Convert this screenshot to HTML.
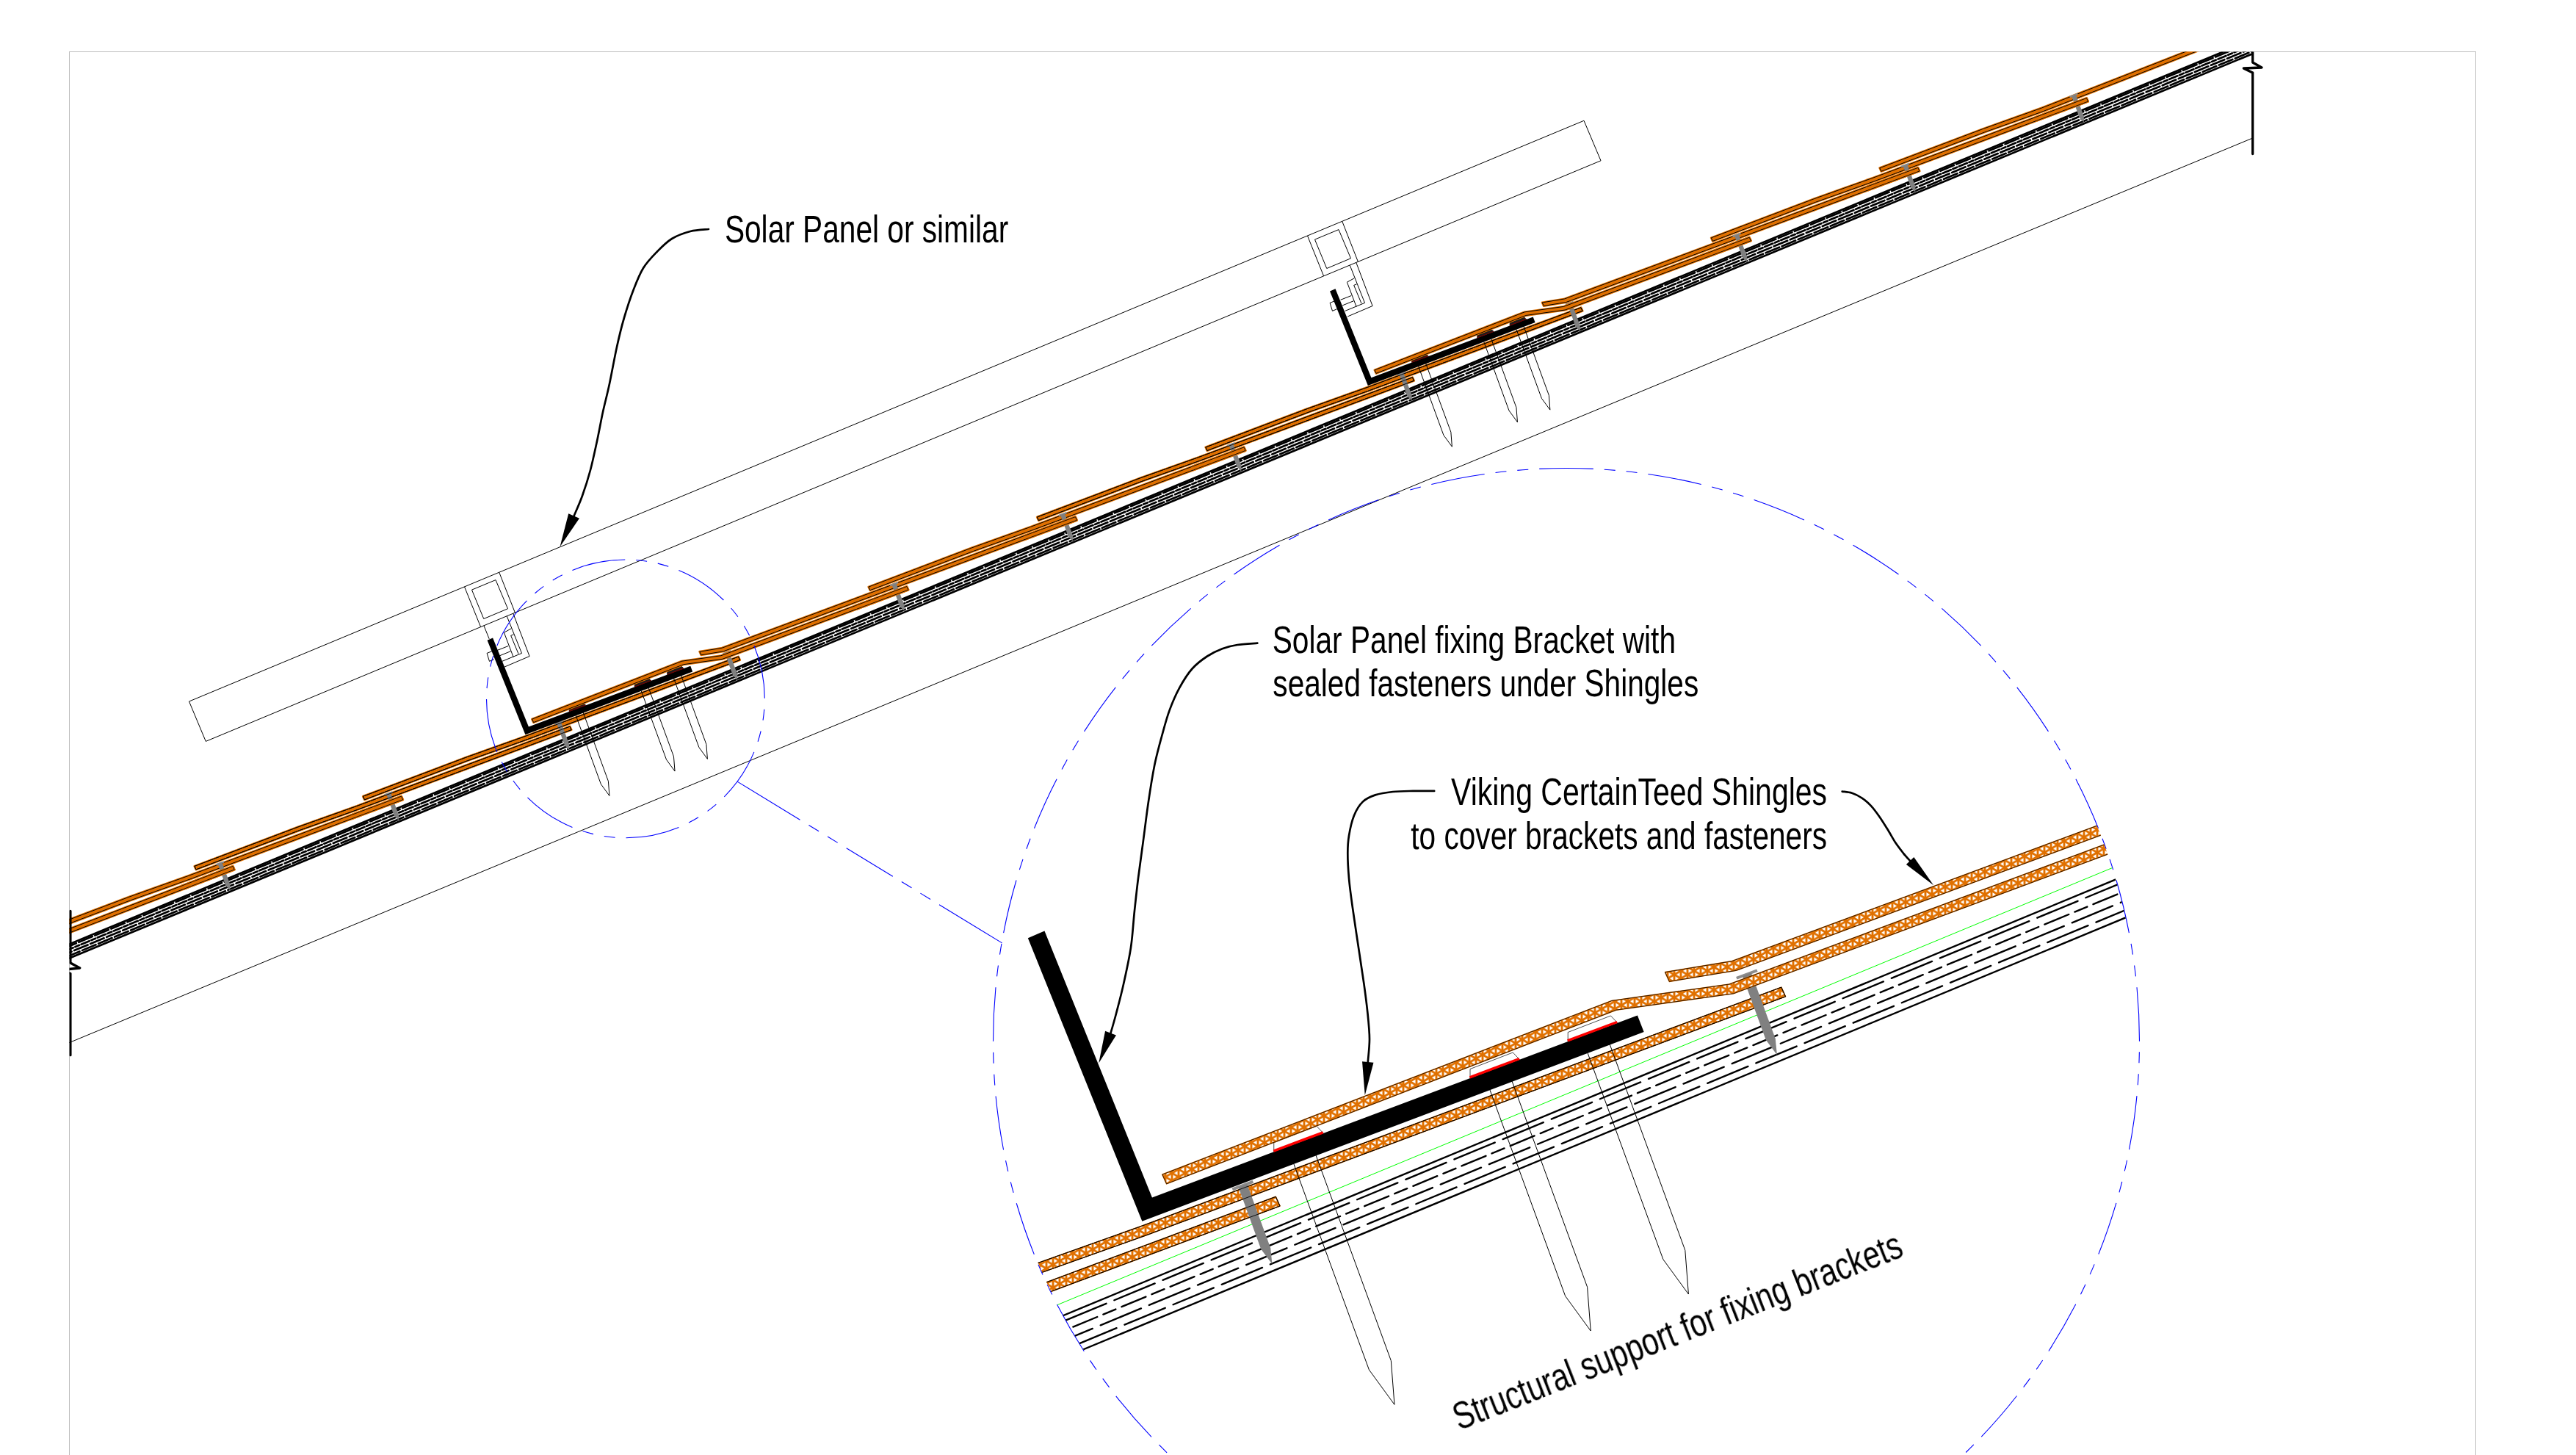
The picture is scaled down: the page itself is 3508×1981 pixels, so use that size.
<!DOCTYPE html><html><head><meta charset="utf-8"><title>Detail</title><style>html,body{margin:0;padding:0;background:#fff;width:3508px;height:1981px;overflow:hidden}svg{display:block}text{font-family:"Liberation Sans",sans-serif;fill:#000}</style></head><body>
<svg width="3508" height="1981" viewBox="0 0 3508 1981">
<defs>
<clipPath id="cf"><rect x="94.5" y="70.5" width="2973.2" height="2000"/></clipPath>
<clipPath id="cfr"><rect x="94.5" y="70.5" width="3277" height="2000"/></clipPath>
<clipPath id="cd"><circle cx="2133" cy="1418" r="780"/></clipPath>
<pattern id="tri" patternUnits="userSpaceOnUse" width="18.000" height="10.392" x="3" y="2">
<rect width="18.000" height="10.392" fill="#fff"/>
<g stroke="#e07000" stroke-width="2.9" fill="none">
<path d="M0 -5V15.392 M9.000 -5V15.392 M18.000 -5V15.392"/>
<path d="M-9.000 -15.588L27.000 5.196"/>
<path d="M-9.000 5.196L27.000 -15.588"/>
<path d="M-9.000 -5.196L27.000 15.588"/>
<path d="M-9.000 15.588L27.000 -5.196"/>
<path d="M-9.000 5.196L27.000 25.981"/>
<path d="M-9.000 25.981L27.000 5.196"/>
</g></pattern>
</defs>
<rect width="3508" height="1981" fill="#fff"/>
<rect x="94.5" y="70.5" width="3277" height="2000" fill="none" stroke="#bdbdbd" stroke-width="1"/>
<g clip-path="url(#cf)">
<path d="M3.83 1457.07 L3191.22 136.81" stroke="#000" stroke-width="1" fill="none"/>
<g stroke="#000" stroke-width="2.70" stroke-linecap="round" fill="none">
<path d="M-43.58 1342.60 L3143.80 22.34"/>
<path d="M-42.64 1344.87 L3144.74 24.61" stroke-dasharray="19.93 3.93" stroke-dashoffset="4.67"/>
<path d="M-41.09 1348.61 L3146.29 28.35" stroke-dasharray="11.87 2.93 6.13 2.93" stroke-dashoffset="2.70"/>
<path d="M-39.54 1352.37 L3147.85 32.11" stroke-dasharray="19.93 3.93" stroke-dashoffset="14.77"/>
<path d="M-38.02 1356.03 L3149.36 35.77" stroke-dasharray="19.93 3.93" stroke-dashoffset="4.60"/>
<path d="M-36.80 1358.98 L3150.59 38.73"/>
</g>
<polygon points="-394.81,1461.52 -383.93,1457.46 -383.02,1459.68 -393.89,1463.74" fill="#8c8c8c"/>
<polygon points="-391.78,1461.79 -386.05,1459.41 -374.97,1489.61 -375.18,1497.27 -381.16,1490.88" fill="#808080"/>
<polygon points="-441.72,1490.67 -371.41,1464.43 -369.36,1468.99 -439.67,1495.24" fill="#e07000"/>
<path d="M-441.72 1490.67 L-371.41 1464.43 L-369.36 1468.99 L-439.67 1495.24" fill="none" stroke="#e07000" stroke-width="3.0" stroke-linejoin="round"/>
<path d="M-441.72 1490.67 L-371.41 1464.43 L-369.36 1468.99 L-439.67 1495.24" fill="none" stroke="#000" stroke-width="0.9"/>
<polygon points="-423.56,1464.49 -283.22,1411.34 -203.04,1382.78 87.57,1274.32 89.62,1278.88 -200.99,1387.35 -281.17,1415.90 -421.51,1469.05" fill="#e07000" stroke="#e07000" stroke-width="3.0" stroke-linejoin="round"/>
<polygon points="-423.56,1464.49 -283.22,1411.34 -203.04,1382.78 87.57,1274.32 89.62,1278.88 -200.99,1387.35 -281.17,1415.90 -421.51,1469.05" fill="#e07000" stroke="#000" stroke-width="1.0"/>
<polygon points="-165.32,1366.46 -154.44,1362.41 -153.52,1364.62 -164.40,1368.68" fill="#8c8c8c"/>
<polygon points="-162.28,1366.73 -156.56,1364.36 -145.48,1394.55 -145.69,1402.21 -151.67,1395.82" fill="#808080"/>
<polygon points="-212.23,1395.62 -141.92,1369.37 -139.87,1373.94 -210.18,1400.18" fill="#e07000"/>
<path d="M-212.23 1395.62 L-141.92 1369.37 L-139.87 1373.94 L-210.18 1400.18" fill="none" stroke="#e07000" stroke-width="3.0" stroke-linejoin="round"/>
<path d="M-212.23 1395.62 L-141.92 1369.37 L-139.87 1373.94 L-210.18 1400.18" fill="none" stroke="#000" stroke-width="0.9"/>
<polygon points="31.53,1288.76 317.14,1179.44 319.19,1184.00 33.58,1293.32" fill="#e07000" stroke="#e07000" stroke-width="3.0" stroke-linejoin="round"/>
<polygon points="31.53,1288.76 317.14,1179.44 319.19,1184.00 33.58,1293.32" fill="#e07000" stroke="#000" stroke-width="1.0"/>
<polygon points="64.17,1271.40 75.05,1267.35 75.97,1269.56 65.09,1273.62" fill="#8c8c8c"/>
<polygon points="67.21,1271.67 72.93,1269.30 84.01,1299.49 83.81,1307.15 77.82,1300.76" fill="#808080"/>
<polygon points="17.26,1300.56 87.57,1274.32 89.62,1278.88 19.31,1305.12" fill="#e07000"/>
<path d="M17.26 1300.56 L87.57 1274.32 L89.62 1278.88 L19.31 1305.12" fill="none" stroke="#e07000" stroke-width="3.0" stroke-linejoin="round"/>
<path d="M17.26 1300.56 L87.57 1274.32 L89.62 1278.88 L19.31 1305.12" fill="none" stroke="#000" stroke-width="0.9"/>
<polygon points="35.42,1274.38 175.76,1221.22 255.94,1192.67 546.55,1084.20 548.60,1088.76 257.99,1197.23 177.82,1225.78 37.47,1278.94" fill="#e07000" stroke="#e07000" stroke-width="3.0" stroke-linejoin="round"/>
<polygon points="35.42,1274.38 175.76,1221.22 255.94,1192.67 546.55,1084.20 548.60,1088.76 257.99,1197.23 177.82,1225.78 37.47,1278.94" fill="#e07000" stroke="#000" stroke-width="1.0"/>
<polygon points="293.67,1176.34 304.54,1172.29 305.46,1174.51 294.58,1178.56" fill="#8c8c8c"/>
<polygon points="296.70,1176.61 302.43,1174.24 313.50,1204.44 313.30,1212.10 307.31,1205.70" fill="#808080"/>
<polygon points="247.07,1206.26 317.14,1179.44 319.19,1184.00 249.12,1210.82" fill="#e07000"/>
<path d="M247.07 1206.26 L317.14 1179.44 L319.19 1184.00 L249.12 1210.82" fill="none" stroke="#e07000" stroke-width="3.0" stroke-linejoin="round"/>
<path d="M247.07 1206.26 L317.14 1179.44 L319.19 1184.00 L249.12 1210.82" fill="none" stroke="#000" stroke-width="0.9"/>
<polygon points="264.91,1179.32 405.26,1126.16 485.43,1097.61 776.04,989.14 778.10,993.70 487.48,1102.17 407.31,1130.73 266.97,1183.88" fill="#e07000" stroke="#e07000" stroke-width="3.0" stroke-linejoin="round"/>
<polygon points="264.91,1179.32 405.26,1126.16 485.43,1097.61 776.04,989.14 778.10,993.70 487.48,1102.17 407.31,1130.73 266.97,1183.88" fill="#e07000" stroke="#000" stroke-width="1.0"/>
<polygon points="523.16,1081.29 534.03,1077.23 534.95,1079.45 524.08,1083.50" fill="#8c8c8c"/>
<polygon points="526.19,1081.55 531.92,1079.18 542.99,1109.38 542.79,1117.04 536.81,1110.64" fill="#808080"/>
<polygon points="476.24,1110.44 546.55,1084.20 548.60,1088.76 478.29,1115.00" fill="#e07000"/>
<path d="M476.24 1110.44 L546.55 1084.20 L548.60 1088.76 L478.29 1115.00" fill="none" stroke="#e07000" stroke-width="3.0" stroke-linejoin="round"/>
<path d="M476.24 1110.44 L546.55 1084.20 L548.60 1088.76 L478.29 1115.00" fill="none" stroke="#000" stroke-width="0.9"/>
<polygon points="494.41,1084.26 634.75,1031.11 714.92,1002.55 1005.54,894.08 1007.59,898.64 716.98,1007.11 636.80,1035.67 496.46,1088.82" fill="#e07000" stroke="#e07000" stroke-width="3.0" stroke-linejoin="round"/>
<polygon points="494.41,1084.26 634.75,1031.11 714.92,1002.55 1005.54,894.08 1007.59,898.64 716.98,1007.11 636.80,1035.67 496.46,1088.82" fill="#e07000" stroke="#000" stroke-width="1.0"/>
<polygon points="755.17,985.00 766.05,980.95 766.97,983.17 756.09,987.22" fill="#8c8c8c"/>
<polygon points="758.21,985.27 763.93,982.90 775.06,1013.25 774.86,1020.91 768.88,1014.51" fill="#808080"/>
<polygon points="494.41,1084.26 634.75,1031.11 714.92,1002.55 1005.54,894.08 1007.59,898.64 716.98,1007.11 636.80,1035.67 496.46,1088.82" fill="none" stroke="#000" stroke-width="0.9"/>
<polygon points="264.91,1179.32 405.26,1126.16 485.43,1097.61 776.04,989.14 778.10,993.70 487.48,1102.17 407.31,1130.73 266.97,1183.88" fill="none" stroke="#000" stroke-width="0.9"/>
<polygon points="984.00,889.14 994.88,885.08 995.80,887.30 984.92,891.35" fill="#8c8c8c"/>
<polygon points="987.04,889.40 992.77,887.03 1004.24,918.32 1004.04,925.98 998.05,919.59" fill="#808080"/>
<polygon points="663.56,871.75 671.10,868.52 719.93,989.55 940.25,906.84 943.16,914.40 715.40,1000.30" fill="#000"/>
<polygon points="775.19,968.80 775.20,964.63 794.61,957.13 797.68,960.36" fill="#1c1c1c" stroke="#000" stroke-width="0.7"/>
<polygon points="774.81,967.87 797.29,959.43 797.73,960.50 775.25,968.94" fill="#7a0000"/>
<polygon points="864.28,935.36 864.28,931.19 883.69,923.69 886.76,926.92" fill="#1c1c1c" stroke="#000" stroke-width="0.7"/>
<polygon points="863.90,934.43 886.38,925.99 886.82,927.05 864.34,935.49" fill="#7a0000"/>
<polygon points="908.68,918.69 908.69,914.52 928.09,907.02 931.16,910.25" fill="#1c1c1c" stroke="#000" stroke-width="0.7"/>
<polygon points="908.30,917.76 930.78,909.32 931.22,910.39 908.74,918.83" fill="#7a0000"/>
<polygon points="724.57,979.07 928.61,900.18 981.92,892.72 1234.84,798.56 1236.89,803.12 983.97,897.28 930.67,904.74 726.62,983.63" fill="#e07000" stroke="#e07000" stroke-width="3.0" stroke-linejoin="round"/>
<polygon points="724.57,979.07 928.61,900.18 981.92,892.72 1234.84,798.56 1236.89,803.12 983.97,897.28 930.67,904.74 726.62,983.63" fill="#e07000" stroke="#000" stroke-width="1.0"/>
<polygon points="952.80,887.24 983.20,882.23 1464.40,703.69 1466.46,708.25 985.25,886.79 954.86,891.80" fill="#e07000" stroke="#e07000" stroke-width="3.0" stroke-linejoin="round"/>
<polygon points="952.80,887.24 983.20,882.23 1464.40,703.69 1466.46,708.25 985.25,886.79 954.86,891.80" fill="#e07000" stroke="#000" stroke-width="1.0"/>
<polygon points="1211.63,796.11 1222.51,792.05 1223.43,794.27 1212.55,798.33" fill="#8c8c8c"/>
<polygon points="1214.67,796.38 1220.39,794.00 1231.47,824.20 1231.26,831.86 1225.28,825.47" fill="#808080"/>
<polygon points="1164.50,824.74 1234.84,798.56 1236.89,803.12 1166.55,829.31" fill="#e07000"/>
<path d="M1164.50 824.74 L1234.84 798.56 L1236.89 803.12 L1166.55 829.31" fill="none" stroke="#e07000" stroke-width="3.0" stroke-linejoin="round"/>
<path d="M1164.50 824.74 L1234.84 798.56 L1236.89 803.12 L1166.55 829.31" fill="none" stroke="#000" stroke-width="0.9"/>
<polygon points="1182.88,799.08 1323.22,745.93 1403.40,717.37 1694.01,608.91 1696.06,613.47 1405.45,721.94 1325.28,750.49 1184.93,803.64" fill="#e07000" stroke="#e07000" stroke-width="3.0" stroke-linejoin="round"/>
<polygon points="1182.88,799.08 1323.22,745.93 1403.40,717.37 1694.01,608.91 1696.06,613.47 1405.45,721.94 1325.28,750.49 1184.93,803.64" fill="#e07000" stroke="#000" stroke-width="1.0"/>
<polygon points="1441.12,701.05 1452.00,697.00 1452.92,699.21 1442.04,703.27" fill="#8c8c8c"/>
<polygon points="1444.16,701.32 1449.88,698.95 1460.96,729.14 1460.76,736.80 1454.77,730.41" fill="#808080"/>
<polygon points="1394.04,729.79 1464.40,703.69 1466.46,708.25 1396.09,734.36" fill="#e07000"/>
<path d="M1394.04 729.79 L1464.40 703.69 L1466.46 708.25 L1396.09 734.36" fill="none" stroke="#e07000" stroke-width="3.0" stroke-linejoin="round"/>
<path d="M1394.04 729.79 L1464.40 703.69 L1466.46 708.25 L1396.09 734.36" fill="none" stroke="#000" stroke-width="0.9"/>
<polygon points="1412.37,704.02 1552.71,650.87 1632.89,622.32 1923.50,513.85 1925.55,518.41 1634.94,626.88 1554.77,655.43 1414.42,708.59" fill="#e07000" stroke="#e07000" stroke-width="3.0" stroke-linejoin="round"/>
<polygon points="1412.37,704.02 1552.71,650.87 1632.89,622.32 1923.50,513.85 1925.55,518.41 1634.94,626.88 1554.77,655.43 1414.42,708.59" fill="#e07000" stroke="#000" stroke-width="1.0"/>
<polygon points="1670.62,605.99 1681.49,601.94 1682.41,604.15 1671.53,608.21" fill="#8c8c8c"/>
<polygon points="1673.65,606.26 1679.38,603.89 1690.45,634.08 1690.25,641.75 1684.26,635.35" fill="#808080"/>
<polygon points="1623.70,635.15 1694.01,608.91 1696.06,613.47 1625.75,639.71" fill="#e07000"/>
<path d="M1623.70 635.15 L1694.01 608.91 L1696.06 613.47 L1625.75 639.71" fill="none" stroke="#e07000" stroke-width="3.0" stroke-linejoin="round"/>
<path d="M1623.70 635.15 L1694.01 608.91 L1696.06 613.47 L1625.75 639.71" fill="none" stroke="#000" stroke-width="0.9"/>
<polygon points="1641.86,608.97 1782.21,555.81 1862.38,527.26 2152.99,418.79 2155.05,423.35 1864.43,531.82 1784.26,560.37 1643.92,613.53" fill="#e07000" stroke="#e07000" stroke-width="3.0" stroke-linejoin="round"/>
<polygon points="1641.86,608.97 1782.21,555.81 1862.38,527.26 2152.99,418.79 2155.05,423.35 1864.43,531.82 1784.26,560.37 1643.92,613.53" fill="#e07000" stroke="#000" stroke-width="1.0"/>
<polygon points="1902.63,509.71 1913.51,505.66 1914.43,507.87 1903.55,511.93" fill="#8c8c8c"/>
<polygon points="1905.66,509.98 1911.39,507.61 1922.52,537.96 1922.32,545.62 1916.34,539.22" fill="#808080"/>
<polygon points="1641.86,608.97 1782.21,555.81 1862.38,527.26 2152.99,418.79 2155.05,423.35 1864.43,531.82 1784.26,560.37 1643.92,613.53" fill="none" stroke="#000" stroke-width="0.9"/>
<polygon points="1412.37,704.02 1552.71,650.87 1632.89,622.32 1923.50,513.85 1925.55,518.41 1634.94,626.88 1554.77,655.43 1414.42,708.59" fill="none" stroke="#000" stroke-width="0.9"/>
<polygon points="2131.46,413.84 2142.34,409.79 2143.26,412.01 2132.38,416.06" fill="#8c8c8c"/>
<polygon points="2134.50,414.11 2140.22,411.74 2151.70,443.03 2151.50,450.69 2145.51,444.29" fill="#808080"/>
<polygon points="1811.02,396.46 1818.55,393.23 1867.39,514.25 2087.71,431.54 2090.62,439.10 1862.86,525.00" fill="#000"/>
<polygon points="1922.65,493.50 1922.66,489.34 1942.07,481.84 1945.13,485.07" fill="#1c1c1c" stroke="#000" stroke-width="0.7"/>
<polygon points="1922.27,492.58 1944.75,484.14 1945.19,485.20 1922.71,493.64" fill="#7a0000"/>
<polygon points="2011.74,460.06 2011.74,455.90 2031.15,448.40 2034.22,451.62" fill="#1c1c1c" stroke="#000" stroke-width="0.7"/>
<polygon points="2011.35,459.14 2033.84,450.70 2034.28,451.76 2011.79,460.20" fill="#7a0000"/>
<polygon points="2056.14,443.39 2056.14,439.23 2075.55,431.73 2078.62,434.95" fill="#1c1c1c" stroke="#000" stroke-width="0.7"/>
<polygon points="2055.76,442.47 2078.24,434.03 2078.68,435.09 2056.20,443.53" fill="#7a0000"/>
<polygon points="1872.03,503.78 2076.07,424.89 2129.37,417.42 2382.29,323.27 2384.35,327.83 2131.43,421.99 2078.13,429.45 1874.08,508.34" fill="#e07000" stroke="#e07000" stroke-width="3.0" stroke-linejoin="round"/>
<polygon points="1872.03,503.78 2076.07,424.89 2129.37,417.42 2382.29,323.27 2384.35,327.83 2131.43,421.99 2078.13,429.45 1874.08,508.34" fill="#e07000" stroke="#000" stroke-width="1.0"/>
<polygon points="2100.26,411.95 2130.66,406.93 2611.86,228.39 2613.91,232.96 2132.71,411.50 2102.31,416.51" fill="#e07000" stroke="#e07000" stroke-width="3.0" stroke-linejoin="round"/>
<polygon points="2100.26,411.95 2130.66,406.93 2611.86,228.39 2613.91,232.96 2132.71,411.50 2102.31,416.51" fill="#e07000" stroke="#000" stroke-width="1.0"/>
<polygon points="2359.09,320.82 2369.97,316.76 2370.88,318.98 2360.01,323.03" fill="#8c8c8c"/>
<polygon points="2362.12,321.08 2367.85,318.71 2378.93,348.91 2378.72,356.57 2372.74,350.17" fill="#808080"/>
<polygon points="2311.96,349.45 2382.29,323.27 2384.35,327.83 2314.01,354.01" fill="#e07000"/>
<path d="M2311.96 349.45 L2382.29 323.27 L2384.35 327.83 L2314.01 354.01" fill="none" stroke="#e07000" stroke-width="3.0" stroke-linejoin="round"/>
<path d="M2311.96 349.45 L2382.29 323.27 L2384.35 327.83 L2314.01 354.01" fill="none" stroke="#000" stroke-width="0.9"/>
<polygon points="2330.34,323.79 2470.68,270.64 2550.86,242.08 2841.47,133.61 2843.52,138.17 2552.91,246.64 2472.73,275.20 2332.39,328.35" fill="#e07000" stroke="#e07000" stroke-width="3.0" stroke-linejoin="round"/>
<polygon points="2330.34,323.79 2470.68,270.64 2550.86,242.08 2841.47,133.61 2843.52,138.17 2552.91,246.64 2472.73,275.20 2332.39,328.35" fill="#e07000" stroke="#000" stroke-width="1.0"/>
<polygon points="2588.58,225.76 2599.46,221.70 2600.38,223.92 2589.50,227.98" fill="#8c8c8c"/>
<polygon points="2591.62,226.03 2597.34,223.65 2608.42,253.85 2608.21,261.51 2602.23,255.11" fill="#808080"/>
<polygon points="2541.50,254.50 2611.86,228.39 2613.91,232.96 2543.55,259.06" fill="#e07000"/>
<path d="M2541.50 254.50 L2611.86 228.39 L2613.91 232.96 L2543.55 259.06" fill="none" stroke="#e07000" stroke-width="3.0" stroke-linejoin="round"/>
<path d="M2541.50 254.50 L2611.86 228.39 L2613.91 232.96 L2543.55 259.06" fill="none" stroke="#000" stroke-width="0.9"/>
<polygon points="2559.83,228.73 2700.17,175.58 2780.35,147.02 3069.12,34.12 3071.18,38.68 2782.40,151.59 2702.23,180.14 2561.88,233.29" fill="#e07000" stroke="#e07000" stroke-width="3.0" stroke-linejoin="round"/>
<polygon points="2559.83,228.73 2700.17,175.58 2780.35,147.02 3069.12,34.12 3071.18,38.68 2782.40,151.59 2702.23,180.14 2561.88,233.29" fill="#e07000" stroke="#000" stroke-width="1.0"/>
<polygon points="2818.07,130.70 2828.95,126.64 2829.87,128.86 2818.99,132.92" fill="#8c8c8c"/>
<polygon points="2821.11,130.97 2826.83,128.59 2837.91,158.79 2837.71,166.45 2831.72,160.06" fill="#808080"/>
<polygon points="2771.16,159.85 2841.47,133.61 2843.52,138.17 2773.21,164.42" fill="#e07000"/>
<path d="M2771.16 159.85 L2841.47 133.61 L2843.52 138.17 L2773.21 164.42" fill="none" stroke="#e07000" stroke-width="3.0" stroke-linejoin="round"/>
<path d="M2771.16 159.85 L2841.47 133.61 L2843.52 138.17 L2773.21 164.42" fill="none" stroke="#000" stroke-width="0.9"/>
<path d="M784.20 974.16 L818.41 1067.69 L829.94 1083.48 L828.39 1063.56 L794.18 970.03" fill="none" stroke="#000" stroke-width="1.0"/>
<path d="M873.28 940.72 L907.50 1034.25 L919.02 1050.04 L917.48 1030.11 L883.26 936.59" fill="none" stroke="#000" stroke-width="1.0"/>
<path d="M917.68 924.05 L951.90 1017.58 L963.42 1033.37 L961.88 1013.45 L927.66 919.92" fill="none" stroke="#000" stroke-width="1.0"/>
<path d="M1931.66 498.87 L1965.87 592.40 L1977.39 608.19 L1975.85 588.26 L1941.63 494.74" fill="none" stroke="#000" stroke-width="1.0"/>
<path d="M2020.74 465.43 L2054.96 558.95 L2066.48 574.75 L2064.93 554.82 L2030.72 461.30" fill="none" stroke="#000" stroke-width="1.0"/>
<path d="M2065.14 448.76 L2099.36 542.29 L2110.88 558.08 L2109.33 538.15 L2075.12 444.63" fill="none" stroke="#000" stroke-width="1.0"/>
</g>
<g clip-path="url(#cfr)" fill="none" stroke="#000" stroke-width="3.3" stroke-linejoin="round" stroke-linecap="round">
<path d="M95.9 1240.5 V1311 L108.7 1318 L83.9 1320.5 L95.9 1325.5 V1436.7"/>
<path d="M3067.7 66 V85 L3080.0 92 L3055.3 93 L3067.7 99 V209.5"/>
</g>
<g fill="none" stroke="#000" stroke-width="1.0">
<polygon points="257.5,955 2157,164.25 2180,218.75 280.25,1009.4"/>
<path d="M632.50 798.89 L654.60 853.60"/><path d="M679.75 779.22 L701.40 834.12"/><path d="M642.50 803.10 L675.00 789.60 L691.50 828.75 L658.75 842.50 Z"/><path d="M690.20 838.78 L710.50 889.40 L683.70 900.40"/><path d="M698.80 835.21 L721.10 893.50 L687.10 908.00"/><path d="M696.40 855.70 L686.40 861.20 L699.10 894.60"/><path d="M699.60 863.80 L695.70 865.40 L706.00 890.10"/><path d="M677.50 885.30 L692.30 879.50"/><path d="M680.20 892.90 L695.40 886.70"/><path d="M669.90 886.70 L663.10 889.40 L666.50 900.40 L672.70 897.70"/><path d="M658.90 851.81 L666.20 869.80"/>
<path d="M1780.50 320.98 L1802.60 375.82"/><path d="M1827.75 301.31 L1849.40 356.34"/><path d="M1790.50 326.10 L1823.00 312.60 L1839.50 351.75 L1806.75 365.50 Z"/><path d="M1838.20 361.00 L1858.50 412.40 L1831.70 423.40"/><path d="M1846.80 357.42 L1869.10 416.50 L1835.10 431.00"/><path d="M1844.40 378.70 L1834.40 384.20 L1847.10 417.60"/><path d="M1847.60 386.80 L1843.70 388.40 L1854.00 413.10"/><path d="M1825.50 408.30 L1840.30 402.50"/><path d="M1828.20 415.90 L1843.40 409.70"/><path d="M1817.90 409.70 L1811.10 412.40 L1814.50 423.40 L1820.70 420.70"/>
</g>
<g fill="none" stroke="#0000ff" stroke-width="1.1">
<circle cx="851.9" cy="951.4" r="189.4" pathLength="360" stroke-dasharray="22.3 4.54 4.54 4.54 4.54 4.54" stroke-dashoffset="22.5"/>
<path d="M1004.1 1064.1 L1364.6 1283.9" stroke-dasharray="100 14 16 14 16 14 74 14 16 14 16 14 110"/>
<circle cx="2133" cy="1418" r="780.5" pathLength="360" stroke-dasharray="5.41 1.1 1.1 1.1 1.1 1.1" stroke-dashoffset="5.4545"/>
</g>
<g clip-path="url(#cd)">
<path d="M1240.00 1859.44 L3152.43 1067.28" stroke="#00ff00" stroke-width="1" fill="none"/>
<g stroke="#000" stroke-width="2.40" stroke-linecap="round" fill="none">
<path d="M1246.28 1874.60 L3158.71 1082.44"/>
<path d="M1249.09 1881.39 L3161.52 1089.23" stroke-dasharray="59.80 11.80" stroke-dashoffset="67.60"/>
<path d="M1253.74 1892.61 L3166.17 1100.46" stroke-dasharray="35.60 8.80 18.40 8.80" stroke-dashoffset="61.70"/>
<path d="M1258.41 1903.89 L3170.84 1111.74" stroke-dasharray="59.80 11.80" stroke-dashoffset="26.30"/>
<path d="M1262.96 1914.87 L3175.39 1122.72" stroke-dasharray="59.80 11.80" stroke-dashoffset="67.40"/>
<path d="M1266.63 1923.74 L3179.06 1131.58"/>
</g>
<polygon points="-395.44,2476.80 -367.31,2466.31 -365.82,2469.92 -393.94,2480.40" fill="#8c8c8c"/>
<polygon points="-386.45,2475.77 -374.81,2470.95 -342.92,2557.87 -340.76,2579.71 -355.94,2559.37" fill="#808080"/>
<polygon points="-484.57,2485.03 -63.54,2325.57 176.98,2239.91 1048.82,1914.50 1054.57,1927.22 182.74,2252.62 -57.79,2338.29 -478.82,2497.75" fill="url(#tri)" stroke="#e07000" stroke-width="1.6" stroke-linejoin="round"/>
<polygon points="-484.57,2485.03 -63.54,2325.57 176.98,2239.91 1048.82,1914.50 1054.57,1927.22 182.74,2252.62 -57.79,2338.29 -478.82,2497.75" fill="none" stroke="#000" stroke-width="0.8"/>
<polygon points="293.04,2191.63 321.17,2181.14 322.66,2184.74 294.53,2195.23" fill="#8c8c8c"/>
<polygon points="302.03,2190.59 313.67,2185.77 345.55,2272.70 347.71,2294.53 332.53,2274.19" fill="#808080"/>
<polygon points="203.90,2199.86 624.93,2040.40 865.46,1954.73 1737.29,1629.33 1743.05,1642.04 871.21,1967.45 630.68,2053.11 209.66,2212.57" fill="url(#tri)" stroke="#e07000" stroke-width="1.6" stroke-linejoin="round"/>
<polygon points="203.90,2199.86 624.93,2040.40 865.46,1954.73 1737.29,1629.33 1743.05,1642.04 871.21,1967.45 630.68,2053.11 209.66,2212.57" fill="none" stroke="#000" stroke-width="0.8"/>
<polygon points="981.51,1906.45 1009.64,1895.96 1011.13,1899.56 983.01,1910.05" fill="#8c8c8c"/>
<polygon points="990.50,1905.42 1002.14,1900.60 1034.03,1987.52 1036.19,2009.35 1021.01,1989.02" fill="#808080"/>
<polygon points="892.38,1914.68 1313.41,1755.22 1553.93,1669.56 2425.77,1344.15 2431.52,1356.87 1559.69,1682.27 1319.16,1767.94 898.13,1927.40" fill="url(#tri)" stroke="#e07000" stroke-width="1.6" stroke-linejoin="round"/>
<polygon points="892.38,1914.68 1313.41,1755.22 1553.93,1669.56 2425.77,1344.15 2431.52,1356.87 1559.69,1682.27 1319.16,1767.94 898.13,1927.40" fill="none" stroke="#000" stroke-width="0.8"/>
<polygon points="1677.56,1617.60 1705.69,1607.12 1707.18,1610.72 1679.05,1621.21" fill="#8c8c8c"/>
<polygon points="1686.55,1616.57 1698.19,1611.75 1730.24,1699.14 1732.40,1720.97 1717.22,1700.63" fill="#808080"/>
<polygon points="892.38,1914.68 1313.41,1755.22 1553.93,1669.56 2425.77,1344.15 2431.52,1356.87 1559.69,1682.27 1319.16,1767.94 898.13,1927.40" fill="none" stroke="#000" stroke-width="0.9"/>
<polygon points="203.90,2199.86 624.93,2040.40 865.46,1954.73 1737.29,1629.33 1743.05,1642.04 871.21,1967.45 630.68,2053.11 209.66,2212.57" fill="none" stroke="#000" stroke-width="0.9"/>
<polygon points="2364.06,1330.00 2392.18,1319.51 2393.68,1323.12 2365.55,1333.60" fill="#8c8c8c"/>
<polygon points="2373.05,1328.97 2384.69,1324.15 2417.77,1414.35 2419.93,1436.19 2404.75,1415.85" fill="#808080"/>
<polygon points="1399.84,1277.16 1422.45,1267.47 1568.94,1630.54 2229.90,1382.42 2238.65,1405.10 1555.35,1662.80" fill="#000"/>
<polygon points="1734.75,1568.30 1734.76,1555.80 1792.99,1533.31 1802.19,1542.98" fill="#fff" stroke="#000" stroke-width="0.7"/>
<polygon points="1733.60,1565.53 1801.04,1540.21 1802.36,1543.40 1734.92,1568.72" fill="#ff0000"/>
<polygon points="2002.00,1467.97 2002.01,1455.48 2060.24,1432.98 2069.44,1442.65" fill="#fff" stroke="#000" stroke-width="0.7"/>
<polygon points="2000.85,1465.20 2068.29,1439.88 2069.61,1443.07 2002.17,1468.39" fill="#ff0000"/>
<polygon points="2135.20,1417.97 2135.22,1405.47 2193.44,1382.97 2202.64,1392.65" fill="#fff" stroke="#000" stroke-width="0.7"/>
<polygon points="2134.05,1415.20 2201.50,1389.88 2202.82,1393.07 2135.37,1418.38" fill="#ff0000"/>
<polygon points="1582.88,1599.12 2195.01,1362.45 2354.91,1340.06 3113.67,1057.59 3119.42,1070.30 2360.66,1352.77 2200.76,1375.17 1588.63,1611.83" fill="url(#tri)" stroke="#e07000" stroke-width="1.6" stroke-linejoin="round"/>
<polygon points="1582.88,1599.12 2195.01,1362.45 2354.91,1340.06 3113.67,1057.59 3119.42,1070.30 2360.66,1352.77 2200.76,1375.17 1588.63,1611.83" fill="none" stroke="#000" stroke-width="0.8"/>
<polygon points="2267.57,1323.63 2358.76,1308.59 3802.37,772.97 3808.13,785.68 2364.51,1321.30 2273.33,1336.34" fill="url(#tri)" stroke="#e07000" stroke-width="1.6" stroke-linejoin="round"/>
<polygon points="2267.57,1323.63 2358.76,1308.59 3802.37,772.97 3808.13,785.68 2364.51,1321.30 2273.33,1336.34" fill="none" stroke="#000" stroke-width="0.8"/>
<polygon points="3046.94,1050.92 3075.07,1040.43 3076.56,1044.04 3048.43,1054.53" fill="#8c8c8c"/>
<polygon points="3055.93,1049.89 3067.57,1045.07 3099.45,1131.99 3101.61,1153.83 3086.43,1133.49" fill="#808080"/>
<polygon points="2957.80,1059.15 3378.83,899.70 3619.36,814.03 4491.19,488.62 4496.95,501.34 3625.11,826.75 3384.59,912.41 2963.56,1071.87" fill="url(#tri)" stroke="#e07000" stroke-width="1.6" stroke-linejoin="round"/>
<polygon points="2957.80,1059.15 3378.83,899.70 3619.36,814.03 4491.19,488.62 4496.95,501.34 3625.11,826.75 3384.59,912.41 2963.56,1071.87" fill="none" stroke="#000" stroke-width="0.8"/>
<polygon points="3735.41,765.75 3763.54,755.26 3765.03,758.86 3736.91,769.35" fill="#8c8c8c"/>
<polygon points="3744.40,764.72 3756.04,759.89 3787.93,846.82 3790.09,868.65 3774.91,848.31" fill="#808080"/>
<polygon points="3646.28,773.98 4067.31,614.52 4307.83,528.85 5179.67,203.45 5185.42,216.16 4313.59,541.57 4073.06,627.24 3652.03,786.69" fill="url(#tri)" stroke="#e07000" stroke-width="1.6" stroke-linejoin="round"/>
<polygon points="3646.28,773.98 4067.31,614.52 4307.83,528.85 5179.67,203.45 5185.42,216.16 4313.59,541.57 4073.06,627.24 3652.03,786.69" fill="none" stroke="#000" stroke-width="0.8"/>
<path d="M1761.75 1584.40 L1864.40 1864.97 L1898.97 1912.35 L1894.34 1852.58 L1791.69 1572.00" fill="none" stroke="#000" stroke-width="1.0"/>
<path d="M2029.00 1484.07 L2131.65 1764.65 L2166.22 1812.03 L2161.59 1752.25 L2058.94 1471.67" fill="none" stroke="#000" stroke-width="1.0"/>
<path d="M2162.21 1434.07 L2264.86 1714.64 L2299.42 1762.02 L2294.79 1702.24 L2192.14 1421.67" fill="none" stroke="#000" stroke-width="1.0"/>
</g>
<g fill="none" stroke="#000" stroke-width="2.7" stroke-linecap="round">
<path d="M965.0 312.0 C960.8 312.5 948.3 312.8 940.0 315.0 C931.7 317.2 922.5 320.4 915.0 325.0 C907.5 329.6 901.5 335.8 895.0 342.5 C888.5 349.2 881.4 356.2 876.0 365.0 C870.6 373.8 866.8 383.8 862.5 395.0 C858.2 406.2 853.8 419.6 850.0 432.5 C846.2 445.4 843.3 457.5 840.0 472.5 C836.7 487.5 833.1 507.9 830.0 522.5 C826.9 537.1 824.2 546.6 821.2 560.0 C818.3 573.4 815.4 589.7 812.5 603.0 C809.6 616.3 807.2 628.0 804.0 640.0 C800.8 652.0 796.7 664.6 793.0 675.0 C789.3 685.4 783.5 697.9 781.6 702.5"/>
<path d="M1712.3 875.7 C1707.8 876.1 1693.0 876.8 1685.0 878.0 C1677.0 879.2 1671.3 880.6 1664.5 883.2 C1657.7 885.8 1650.8 889.0 1644.0 893.5 C1637.2 898.0 1629.8 903.4 1623.5 910.5 C1617.2 917.6 1611.5 926.8 1606.4 936.2 C1601.3 945.6 1596.7 956.1 1592.7 966.9 C1588.7 977.7 1585.9 988.5 1582.5 1001.0 C1579.1 1013.5 1575.3 1026.6 1572.2 1042.0 C1569.1 1057.4 1566.2 1076.2 1563.7 1093.3 C1561.2 1110.4 1559.2 1127.5 1556.9 1144.6 C1554.6 1161.7 1552.0 1179.9 1550.0 1195.8 C1548.0 1211.7 1546.7 1224.3 1545.0 1240.0 C1543.3 1255.7 1542.5 1273.3 1540.0 1290.0 C1537.5 1306.7 1533.3 1325.0 1530.0 1340.0 C1526.7 1355.0 1522.9 1368.9 1520.0 1380.0 C1517.1 1391.1 1513.8 1402.2 1512.5 1406.6"/>
<path d="M1953.2 1076.9 C1948.3 1076.9 1933.5 1076.7 1924.1 1076.9 C1914.7 1077.1 1905.3 1077.1 1896.8 1078.0 C1888.3 1078.9 1879.7 1080.1 1872.9 1082.4 C1866.1 1084.7 1860.6 1086.9 1855.8 1091.6 C1851.0 1096.3 1847.0 1102.7 1843.9 1110.4 C1840.8 1118.1 1838.4 1129.2 1837.0 1137.7 C1835.6 1146.2 1835.3 1151.9 1835.3 1161.6 C1835.3 1171.3 1835.9 1183.3 1837.0 1195.8 C1838.1 1208.3 1839.9 1221.1 1842.1 1236.8 C1844.3 1252.5 1847.4 1272.8 1850.0 1290.0 C1852.6 1307.2 1855.4 1325.0 1857.5 1340.0 C1859.6 1355.0 1861.2 1367.5 1862.5 1380.0 C1863.8 1392.5 1865.0 1404.0 1865.0 1415.0 C1865.0 1426.0 1863.1 1440.8 1862.8 1446.0"/>
<path d="M2508.7 1077.6 C2510.9 1078.0 2517.5 1078.3 2522.0 1079.8 C2526.5 1081.3 2531.4 1083.8 2535.7 1086.6 C2540.0 1089.4 2543.7 1092.6 2547.7 1096.9 C2551.7 1101.2 2555.6 1106.5 2559.6 1112.2 C2563.6 1117.9 2567.9 1125.0 2571.6 1131.0 C2575.3 1137.0 2578.4 1143.0 2581.8 1148.1 C2585.2 1153.2 2588.9 1157.8 2592.1 1161.8 C2595.3 1165.8 2599.6 1170.3 2601.1 1172.0"/>
</g>
<polygon points="762.50,744.60 788.98,705.85 774.22,699.15" fill="#000"/>
<polygon points="1496.25,1447.50 1519.93,1409.55 1505.07,1403.65" fill="#000"/>
<polygon points="1858.75,1491.25 1870.47,1446.68 1855.03,1445.32" fill="#000"/>
<polygon points="2633.10,1205.30 2606.33,1166.98 2595.87,1177.02" fill="#000"/>
<g style="filter:grayscale(1)">
<text transform="translate(988.75 330.00) scale(0.7972 1) translate(-2.35 0)" font-size="51.0">Solar Panel or similar</text>
<text transform="translate(1734.50 888.50) scale(0.7977 1) translate(-2.35 0)" font-size="51.0">Solar Panel fixing Bracket with</text>
<text transform="translate(1734.50 948.30) scale(0.7961 1) translate(-1.43 0)" font-size="51.0">sealed fasteners under Shingles</text>
<text transform="translate(1976.25 1095.60) scale(0.8041 1) translate(-0.26 0)" font-size="51.0">Viking CertainTeed Shingles</text>
<text transform="translate(1921.90 1156.20) scale(0.7967 1) translate(-0.77 0)" font-size="51.0">to cover brackets and fasteners</text>
<text transform="translate(1988.80 1946.90) rotate(-21.40) scale(0.7991 1) translate(-2.35 0)" font-size="51.0">Structural support for fixing brackets</text>
</g>
</svg></body></html>
